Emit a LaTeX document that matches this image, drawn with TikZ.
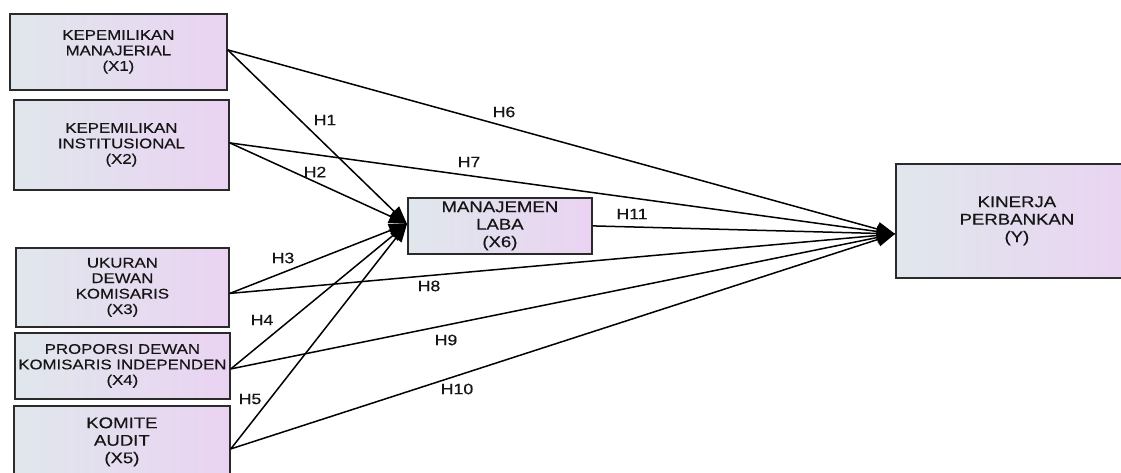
\documentclass[tikz,border=0pt]{standalone}
\usepackage{fontspec}
\usetikzlibrary{arrows.meta}
\newfontfamily\boxfont[FakeStretch=1.2,FakeBold=0.4]{Liberation Sans}
\newfontfamily\hfont[FakeStretch=1.18,FakeBold=0.4]{Liberation Sans}
\definecolor{boxL}{HTML}{E0E7EC}
\definecolor{boxR}{HTML}{EAD3F2}
\definecolor{boxB}{HTML}{2A2A2A}
\definecolor{txt}{HTML}{151515}
\tikzset{
  varbox/.style={draw=boxB, line width=1.8pt, left color=boxL, right color=boxR,
    anchor=north west, inner sep=0pt, align=center, text=txt,
    font=\boxfont\fontsize{14}{15.5}\selectfont},
  bigtext/.style={font=\boxfont\fontsize{15.5}{17.5}\selectfont},
  hlabel/.style={text=txt, inner sep=0pt, font=\hfont\fontsize{15}{16}\selectfont},
  path/.style={line width=1.5pt, draw=black, -{Triangle[length=18pt,width=14pt]}}
}
\begin{document}
\begin{tikzpicture}[x=1pt,y=-1pt]
\useasboundingbox (0,0) rectangle (1121,472);
\clip (0,0) rectangle (1121,472);
\fill[white] (0,0) rectangle (1121,472);
% boxes
\node[varbox, minimum width=217pt, minimum height=76pt] (x1) at (9,13) {KEPEMILIKAN\\MANAJERIAL\\(X1)};
\node[varbox, minimum width=215pt, minimum height=90pt] (x2) at (13,99) {KEPEMILIKAN\\INSTITUSIONAL\\(X2)};
\node[varbox, minimum width=213pt, minimum height=79pt] (x3) at (15,247) {UKURAN\\DEWAN\\KOMISARIS\\(X3)};
\node[varbox, minimum width=215pt, minimum height=66pt] (x4) at (14,332) {PROPORSI DEWAN\\KOMISARIS INDEPENDEN\\(X4)};
\node[varbox, bigtext, minimum width=216pt, minimum height=72pt] (x5) at (13,405) {KOMITE\\AUDIT\\(X5)};
\node[varbox, bigtext, minimum width=184pt, minimum height=56pt] (x6) at (407,197) {MANAJEMEN\\LABA\\(X6)};
\node[varbox, bigtext, minimum width=242pt, minimum height=114pt] (y) at (895,163) {KINERJA\\PERBANKAN\\(Y)};
% connectors to X6
\draw[path] ([yshift=2pt]x1.east) -- ([yshift=2pt]x6.west);
\draw[path] ([yshift=2pt]x2.east) -- ([yshift=2pt]x6.west);
\draw[path] ([yshift=-6pt]x3.east) -- ([yshift=2pt]x6.west);
\draw[path] ([yshift=-3pt]x4.east) -- ([yshift=2pt]x6.west);
\draw[path] ([yshift=-7pt]x5.east) -- ([yshift=2pt]x6.west);
% connectors to Y
\draw[path] ([yshift=2pt]x1.east) -- ([yshift=-13pt]y.west);
\draw[path] ([yshift=2pt]x2.east) -- ([yshift=-13pt]y.west);
\draw[path] ([yshift=-6pt]x3.east) -- ([yshift=-13pt]y.west);
\draw[path] ([yshift=-3pt]x4.east) -- ([yshift=-13pt]y.west);
\draw[path] ([yshift=-7pt]x5.east) -- ([yshift=-13pt]y.west);
\draw[path] (x6.east) -- ([yshift=-13pt]y.west);
% labels
\node[hlabel] (h1) at (325,120) {H1};
\node[hlabel] (h2) at (315,172) {H2};
\node[hlabel] (h3) at (283,258) {H3};
\node[hlabel] (h4) at (262,320) {H4};
\node[hlabel] (h5) at (250,399) {H5};
\node[hlabel] (h6) at (504,112) {H6};
\node[hlabel] (h7) at (469,162) {H7};
\node[hlabel] (h8) at (429,286) {H8};
\node[hlabel] (h9) at (446,340) {H9};
\node[hlabel] (h10) at (457,389) {H10};
\node[hlabel] (h11) at (632,214) {H11};
\end{tikzpicture}
\end{document}
